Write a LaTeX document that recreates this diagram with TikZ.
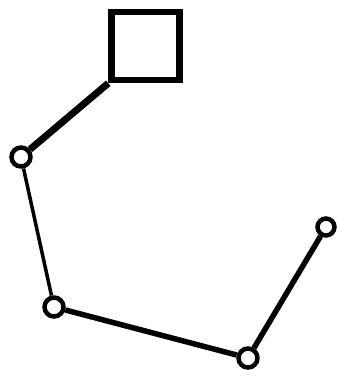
\documentclass[tikz,border=0pt]{standalone}
\begin{document}
\begin{tikzpicture}[x=1pt,y=-1pt,
  joint/.style={circle,draw=black,line width=4.5pt,minimum size=19pt,inner sep=0pt,fill=white},
  sq/.style={draw=black,line width=6.5pt,minimum size=68pt,inner sep=0pt},
  thick link/.style={line width=7pt},
  thin link/.style={line width=3.5pt},
  mid link/.style={line width=5.5pt}]
\useasboundingbox (0,0) rectangle (337,376);
\node[sq] (s) at (145.5,46) {};
\node[joint] (a) at (21,157) {};
\node[joint] (b) at (54,307) {};
\node[joint] (c) at (248,358) {};
\node[joint,minimum size=17pt] (d) at (326,227) {};
\draw[thick link] (s.south west) -- (a);
\draw[thin link] (a) -- (b);
\draw[mid link] (b) -- (c);
\draw[mid link] (c) -- (d);
\end{tikzpicture}
\end{document}
